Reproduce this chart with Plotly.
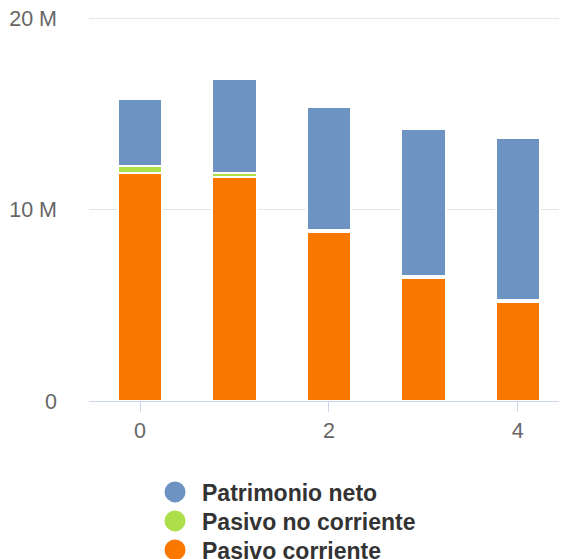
import plotly.graph_objects as go

categories = [0, 1, 2, 3, 4]
pasivo_corriente = [11.95e6, 11.7e6, 8.85e6, 6.45e6, 5.2e6]
pasivo_no_corriente = [0.35e6, 0.22e6, 0.1e6, 0.1e6, 0.1e6]
patrimonio_neto = [3.5e6, 4.93e6, 6.43e6, 7.68e6, 8.49e6]
y_tick_vals = [0, 10e6, 20e6]
y_tick_text = ["0", "10 M", "20 M"]
x_tick_vals = [0, 2, 4]

c_blue = "#6c93c2"
c_green = "#addf4a"
c_orange = "#fa7800"

# page body has an 8px offset; figure made slightly larger than the viewport
W, H = 575, 590
L, T, R, B = 81, 9, 18, 197
plot_h = H - T - B

fig = go.Figure()
series = [
    ("Pasivo corriente", pasivo_corriente, c_orange),
    ("Pasivo no corriente", pasivo_no_corriente, c_green),
    ("Patrimonio neto", patrimonio_neto, c_blue),
]
for name, vals, col in series:
    fig.add_trace(go.Bar(x=categories, y=vals, name=name, width=0.47,
                         marker=dict(color=col, line=dict(color="white", width=2)),
                         showlegend=False))

legend_names = ["legend", "legend2", "legend3"]
row_centers = [484, 513, 542]  # figure px
for lg, (name, vals, col) in zip(legend_names, reversed(series)):
    fig.add_trace(go.Scatter(x=[None], y=[None], mode="markers", name=name,
                             legend=lg,
                             marker=dict(color=col, size=22, symbol="circle",
                                         line=dict(color=col, width=6))))

leg_common = dict(x=0.124, xanchor="left", yanchor="middle",
                  font=dict(size=23, color="#333333", weight="bold"),
                  itemsizing="trace", itemwidth=44, bgcolor="rgba(0,0,0,0)")
legend_layout = {}
for lg, yc in zip(legend_names, row_centers):
    legend_layout[lg] = dict(leg_common, y=(H - B - yc) / plot_h)

fig.update_layout(
    width=W, height=H,
    barmode="stack",
    margin=dict(l=L, r=R, t=T, b=B),
    paper_bgcolor="white", plot_bgcolor="white",
    font=dict(family="Liberation Sans, Arial, sans-serif", size=21.5, color="#666666"),
    xaxis=dict(range=[-0.54, 4.5], tickvals=x_tick_vals, showgrid=False,
               showline=True, linecolor="#ccd6eb", linewidth=1,
               ticks="outside", ticklen=10, tickcolor="#ccd6eb",
               tickfont=dict(size=21.5, color="#666666"), zeroline=False,
               automargin=False),
    yaxis=dict(range=[0, 20.1e6], tickvals=y_tick_vals, ticktext=y_tick_text,
               showgrid=True, gridcolor="#e6e6e6", gridwidth=1, zeroline=False,
               tickfont=dict(size=21.5, color="#666666"), ticklabelstandoff=31,
               ticklabeloverflow="allow", automargin=False),
    **legend_layout,
)

fig.write_html("out.html")
